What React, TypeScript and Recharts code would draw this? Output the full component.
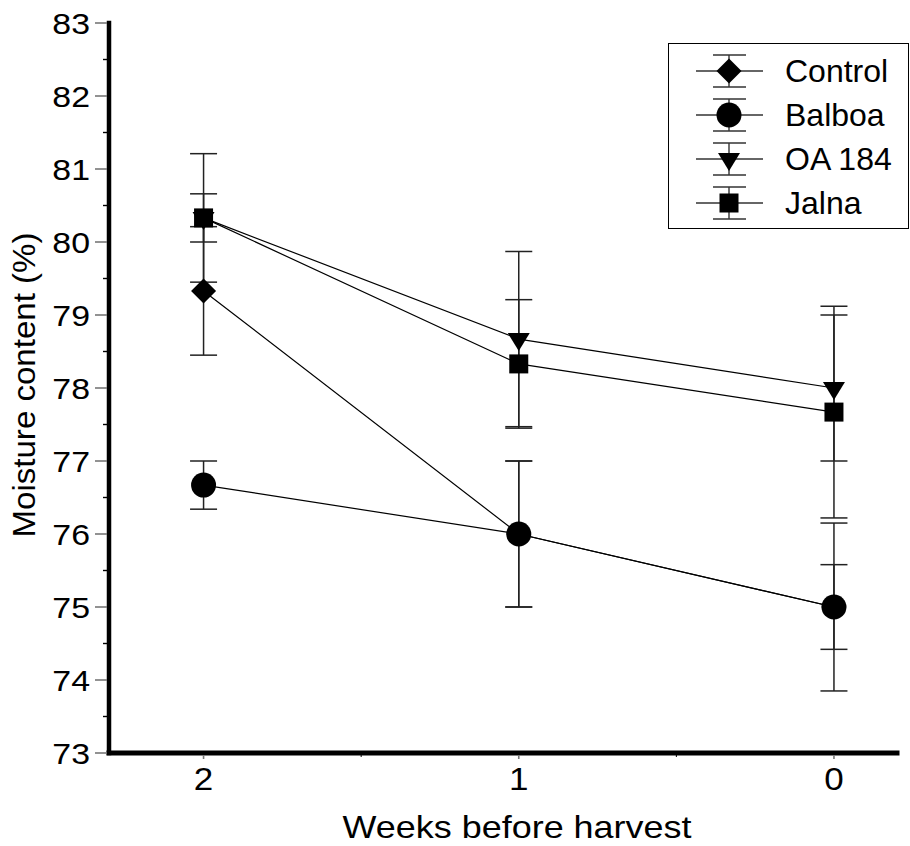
import React from "react";
import {
  ErrorBar,
  Label,
  Legend,
  Line,
  LineChart,
  XAxis,
  YAxis,
} from "recharts";

// weeks before harvest, and mean moisture content (%) with error bars
const weeks = [2, 1, 0];
const controlMean = [79.33, 76.0, 75.0];
const controlErr = [0.88, 1.0, 1.15];
const balboaMean = [76.67, 76.0, 75.0];
const balboaErr = [0.33, 1.0, 0.58];
const oa184Mean = [80.33, 78.67, 78.0];
const oa184Err = [0.88, 1.2, 1.0];
const jalnaMean = [80.33, 78.33, 77.67];
const jalnaErr = [0.33, 0.88, 1.45];

const xTicks = [0, 0.5, 1, 1.5, 2];
const yTicks = [
  73, 73.5, 74, 74.5, 75, 75.5, 76, 76.5, 77, 77.5, 78,
  78.5, 79, 79.5, 80, 80.5, 81, 81.5, 82, 82.5, 83,
];

const data = weeks.map((w, i) => ({
  week: w,
  control: controlMean[i],
  controlErr: controlErr[i],
  balboa: balboaMean[i],
  balboaErr: balboaErr[i],
  oa184: oa184Mean[i],
  oa184Err: oa184Err[i],
  jalna: jalnaMean[i],
  jalnaErr: jalnaErr[i],
}));

const FONT = "'Liberation Sans', Arial, sans-serif";
const INK = "#000";

type Shape = "diamond" | "circle" | "triangle" | "square";

function Marker({ shape, cx, cy }: { shape: Shape; cx: number; cy: number }) {
  if (shape === "diamond") {
    const r = 12.5;
    return <polygon points={`${cx},${cy - r} ${cx + r},${cy} ${cx},${cy + r} ${cx - r},${cy}`} fill={INK} />;
  }
  if (shape === "circle") return <circle cx={cx} cy={cy} r={12.5} fill={INK} />;
  if (shape === "triangle") {
    return <polygon points={`${cx - 11},${cy - 6} ${cx + 11},${cy - 6} ${cx},${cy + 12}`} fill={INK} />;
  }
  return <rect x={cx - 9.5} y={cy - 9.5} width={19} height={19} fill={INK} />;
}

const dotFor = (shape: Shape) => (props: any) => {
  const { cx, cy, index } = props;
  if (cx == null || cy == null) return <g key={`${shape}-${index}`} />;
  return <Marker key={`${shape}-${index}`} shape={shape} cx={cx} cy={cy} />;
};

// the original labels are a little wider than Liberation Sans, so stretch them a bit
function WideText({ x, y, anchor, size, children }: any) {
  return (
    <text
      transform={`translate(${x} ${y}) scale(1.13 1)`}
      textAnchor={anchor}
      fontSize={size}
      fontFamily={FONT}
      fill={INK}
    >
      {children}
    </text>
  );
}

function YTick(props: any) {
  const { x, y, payload } = props;
  const major = Number.isInteger(payload.value);
  if (!major) {
    return <line x1={x - 6} x2={x - 2} y1={y} y2={y} stroke={INK} strokeWidth={1.4} />;
  }
  return (
    <g>
      <line x1={x - 14} x2={x - 2} y1={y} y2={y} stroke="#777" strokeWidth={1.6} />
      <WideText x={x - 19} y={y + 10.5} anchor="end" size={30}>
        {payload.value}
      </WideText>
    </g>
  );
}

function XTick(props: any) {
  const { x, y, payload } = props;
  const major = Number.isInteger(payload.value);
  if (!major) {
    return <line x1={x} x2={x} y1={y + 2} y2={y + 4} stroke={INK} strokeWidth={1} />;
  }
  return (
    <g>
      <line x1={x} x2={x} y1={y + 2} y2={y + 6} stroke="#777" strokeWidth={1.6} />
      <WideText x={x} y={y + 37} anchor="middle" size={31}>
        {payload.value}
      </WideText>
    </g>
  );
}

const legendItems: { name: string; shape: Shape }[] = [
  { name: "Control", shape: "diamond" },
  { name: "Balboa", shape: "circle" },
  { name: "OA 184", shape: "triangle" },
  { name: "Jalna", shape: "square" },
];
const legendRowY = [28, 72, 116, 160];

function LegendBox() {
  return (
    <svg width={242} height={186} style={{ display: "block" }}>
      <rect x={0.5} y={0.5} width={240} height={185} fill="#fff" stroke={INK} strokeWidth={1} />
      {legendItems.map((it, i) => {
        const cy = legendRowY[i];
        return (
          <g key={it.name}>
            <line x1={28} x2={95} y1={cy} y2={cy} stroke="#333" strokeWidth={1.4} />
            <line x1={61} x2={61} y1={cy - 16} y2={cy + 16} stroke="#333" strokeWidth={1.4} />
            <line x1={45} x2={78} y1={cy - 16} y2={cy - 16} stroke="#333" strokeWidth={1.4} />
            <line x1={45} x2={78} y1={cy + 16} y2={cy + 16} stroke="#333" strokeWidth={1.4} />
            <Marker shape={it.shape} cx={61} cy={cy} />
            <text x={117} y={cy + 11} fontSize={32} fontFamily={FONT} fill={INK}>
              {it.name}
            </text>
          </g>
        );
      })}
    </svg>
  );
}

const series: { key: string; err: string; shape: Shape }[] = [
  { key: "control", err: "controlErr", shape: "diamond" },
  { key: "balboa", err: "balboaErr", shape: "circle" },
  { key: "oa184", err: "oa184Err", shape: "triangle" },
  { key: "jalna", err: "jalnaErr", shape: "square" },
];

export default function App() {
  return (
    <div style={{ position: "absolute", left: 0, top: 0, width: 910, height: 846, background: "#fff" }}>
      <LineChart width={910} height={846} data={data} margin={{ top: 23, right: 13, bottom: 0, left: 0 }}>
        <XAxis
          dataKey="week"
          type="number"
          domain={[-0.2, 2.3]}
          reversed
          allowDataOverflow
          ticks={xTicks}
          interval={0}
          tickSize={0}
          tickMargin={0}
          tick={<XTick />}
          tickLine={false}
          height={93}
          axisLine={{ stroke: INK, strokeWidth: 5, strokeLinecap: "square" }}
        >
          <Label
            content={() => (
              <text
                x={517}
                y={838}
                textAnchor="middle"
                fontSize={32}
                fontFamily={FONT}
                fill={INK}
                textLength={349}
                lengthAdjust="spacingAndGlyphs"
              >
                Weeks before harvest
              </text>
            )}
          />
        </XAxis>
        <YAxis
          type="number"
          domain={[73, 83]}
          allowDataOverflow
          ticks={yTicks}
          interval={0}
          tickSize={0}
          tickMargin={0}
          tick={<YTick />}
          tickLine={false}
          width={109}
          axisLine={{ stroke: INK, strokeWidth: 4.5, strokeLinecap: "square" }}
        >
          <Label
            content={() => (
              <text
                x={35}
                y={385}
                transform="rotate(-90 35 385)"
                textAnchor="middle"
                fontSize={31}
                fontFamily={FONT}
                fill={INK}
                textLength={305}
                lengthAdjust="spacingAndGlyphs"
              >
                Moisture content (%)
              </text>
            )}
          />
        </YAxis>
        <Legend
          layout="horizontal"
          verticalAlign="middle"
          align="center"
          content={() => <LegendBox />}
          wrapperStyle={{ left: 668, top: 43, width: 242, height: 186 }}
        />
        {series.map((s) => (
          <Line
            key={s.key}
            type="linear"
            dataKey={s.key}
            stroke={INK}
            strokeWidth={1.2}
            dot={dotFor(s.shape)}
            activeDot={false}
            isAnimationActive={false}
          >
            <ErrorBar dataKey={s.err} direction="y" width={13.5} stroke="#222" strokeWidth={1.5} />
          </Line>
        ))}
      </LineChart>
    </div>
  );
}
